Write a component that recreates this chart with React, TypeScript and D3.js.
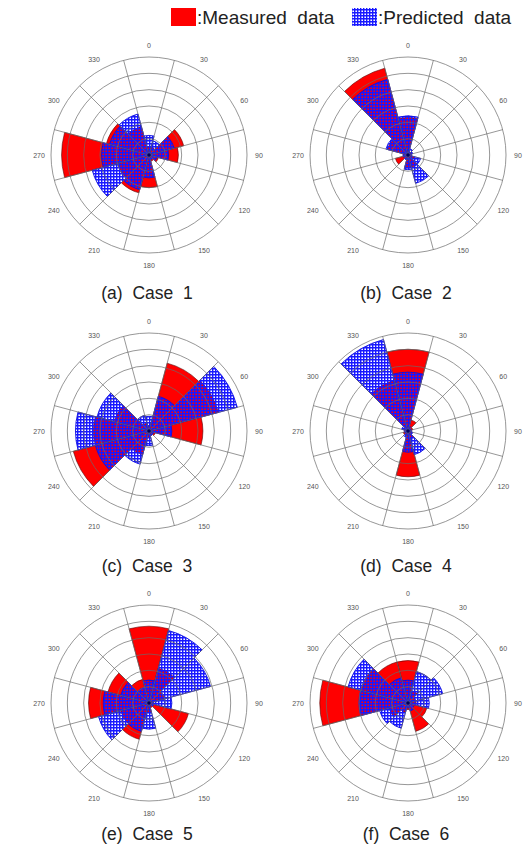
import * as d3 from 'd3';

// wind directions (sector centres, degrees clockwise from north)
const directions = [0, 30, 60, 90, 120, 150, 180, 210, 240, 270, 300, 330];
const angleTicks = directions.map(d => String(d));
const caseLabels = ['(a)  Case  1', '(b)  Case  2', '(c)  Case  3', '(d)  Case  4', '(e)  Case  5', '(f)  Case  6'];

// lengths in grid-ring units (6 rings)
const measured1 = [0.5, 0.5, 2.2, 1.8, 0.6, 0.4, 2.0, 2.4, 2.0, 5.35, 2.7, 1.8];
const predicted1 = [1.2, 0.9, 1.6, 1.2, 0.5, 0.3, 1.4, 2.2, 3.6, 2.9, 2.5, 2.6];
const measured2 = [2.3, 0.2, 0.2, 0.2, 0.4, 0.8, 0.8, 0.3, 0.8, 0.3, 1.3, 5.5];
const predicted2 = [2.4, 0.4, 0.3, 0.2, 0.8, 1.8, 0.9, 0.3, 0.3, 0.3, 1.4, 4.8];
const measured3 = [0.3, 4.3, 4.4, 3.3, 0.4, 0.3, 0.4, 1.5, 4.8, 3.4, 2.2, 0.5];
const predicted3 = [0.9, 2.2, 5.6, 1.4, 0.3, 0.3, 0.9, 2.1, 3.4, 4.5, 3.3, 1.0];
const measured4 = [5.0, 0.7, 0.3, 0.2, 0.2, 0.5, 2.8, 0.3, 0.3, 0.2, 0.3, 3.2];
const predicted4 = [3.6, 0.3, 0.2, 0.2, 0.3, 1.5, 1.3, 0.4, 0.2, 0.2, 0.4, 5.8];
const measured5 = [4.7, 2.2, 1.0, 0.3, 2.5, 0.3, 0.6, 2.3, 1.8, 3.7, 2.6, 1.5];
const predicted5 = [1.4, 4.6, 3.9, 1.4, 0.3, 0.2, 1.6, 1.8, 3.2, 2.8, 1.8, 1.0];
const measured6 = [2.6, 0.8, 0.5, 0.5, 1.2, 1.8, 0.4, 0.6, 1.2, 5.4, 3.0, 2.6];
const predicted6 = [1.4, 2.0, 2.2, 1.3, 0.4, 0.5, 0.3, 1.6, 1.8, 3.0, 3.8, 1.6];

const measuredAll = [measured1, measured2, measured3, measured4, measured5, measured6];
const predictedAll = [predicted1, predicted2, predicted3, predicted4, predicted5, predicted6];

const W = 528;
const H = 848;
const R = 98;
const rings = 6;
const colX = [149, 408];
const rowY = [155, 431, 703];
const captionY = [299, 572, 840];
const font = 'Liberation Sans, Arial, sans-serif';

const rad = (deg: number) => (deg * Math.PI) / 180;

function Rose({ cx, cy, measured, predicted, caption, capY }: any) {
  const r = d3.scaleLinear().domain([0, rings]).range([0, R]);
  const arc = d3.arc<any>()
    .innerRadius(0)
    .outerRadius((d: any) => r(d.v))
    .startAngle((d: any) => rad(d.dir - 15))
    .endAngle((d: any) => rad(d.dir + 15));

  const mData = directions.map((dir, i) => ({ dir, v: measured[i] }));
  const pData = directions.map((dir, i) => ({ dir, v: predicted[i] }));
  const spokes = d3.range(12).map(i => 15 + i * 30);

  return (
    <g>
      <g transform={`translate(${cx},${cy})`}>
        <circle r={R} fill="white" />
        {mData.map((d, i) => (
          <path key={'m' + i} d={arc(d) || ''} fill="#ff0000" stroke="#5a0000" strokeWidth={0.6} />
        ))}
        {pData.map((d, i) => (
          <path key={'p' + i} d={arc(d) || ''} fill="url(#hatch)" stroke="#1010e0" strokeWidth={0.9} />
        ))}
        {d3.range(1, rings + 1).map(k => (
          <circle key={'c' + k} r={r(k)} fill="none" stroke="#6a6a6a" strokeWidth={0.7} />
        ))}
        {spokes.map(a => (
          <line key={'s' + a} x1={0} y1={0}
            x2={R * Math.sin(rad(a))} y2={-R * Math.cos(rad(a))}
            stroke="#6a6a6a" strokeWidth={0.7} />
        ))}
        <circle r={1.8} fill="#000060" />
        {directions.map((a, i) => (
          <text key={'t' + a}
            x={110 * Math.sin(rad(a))} y={-110 * Math.cos(rad(a))}
            textAnchor="middle" dominantBaseline="central"
            fontSize={7} fill="#555" fontFamily={font}>
            {angleTicks[i]}
          </text>
        ))}
      </g>
      <text x={cx - 2} y={capY} textAnchor="middle" fontSize={17.5} fill="#222"
        fontFamily={font} style={{ whiteSpace: 'pre' }}>
        {caption}
      </text>
    </g>
  );
}

export default function App() {
  return (
    <svg width={W} height={H} viewBox={`0 0 ${W} ${H}`}
      style={{ position: 'absolute', left: 0, top: 0, background: 'white' }}>
      <defs>
        <pattern id="hatch" width={3} height={3} patternUnits="userSpaceOnUse">
          <path d="M0,0.7 H3 M0.7,0 V3" stroke="#1818ff" strokeWidth={1.4} />
        </pattern>
      </defs>
      <rect width={W} height={H} fill="white" />

      {/* legend */}
      <rect x={171} y={8} width={25} height={18} fill="#ff0000" />
      <text x={197} y={24} fontSize={19} fill="#222" fontFamily={font}
        style={{ whiteSpace: 'pre' }}>:Measured  data</text>
      <rect x={352} y={8} width={25} height={18} fill="url(#hatch)" />
      <text x={378} y={24} fontSize={19} fill="#222" fontFamily={font}
        style={{ whiteSpace: 'pre' }}>:Predicted  data</text>

      {caseLabels.map((c, i) => (
        <Rose key={c}
          cx={colX[i % 2]} cy={rowY[Math.floor(i / 2)]}
          measured={measuredAll[i]} predicted={predictedAll[i]}
          caption={c} capY={captionY[Math.floor(i / 2)]} />
      ))}
    </svg>
  );
}
